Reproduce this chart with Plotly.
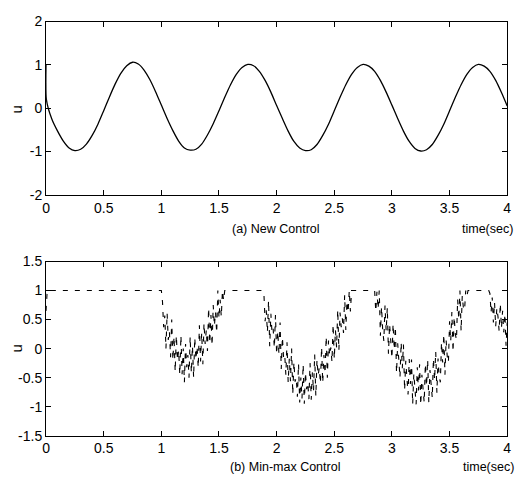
import numpy as np
import plotly.graph_objects as go

# ---------------- data ----------------
# (a) New Control: time samples and values
t_a_start = [0.0, 0.003]
u_a_start = [1.0, 0.2]
t_a_step = 0.05  # sample spacing of the main curve, starting at 0.05
u_a_main = [
    -0.25, -0.53, -0.76, -0.92, -0.98, -0.95, -0.83, -0.63, -0.37, -0.06,
    0.26, 0.56, 0.81, 0.98, 1.06, 1.02, 0.88, 0.66, 0.38, 0.07,
    -0.24, -0.52, -0.76, -0.92, -0.97, -0.95, -0.83, -0.62, -0.36, -0.06,
    0.25, 0.54, 0.78, 0.94, 1.01, 0.98, 0.85, 0.64, 0.37, 0.06,
    -0.24, -0.53, -0.77, -0.92, -0.98, -0.96, -0.84, -0.63, -0.37, -0.06,
    0.25, 0.54, 0.78, 0.94, 1.01, 0.97, 0.85, 0.64, 0.37, 0.07,
    -0.24, -0.53, -0.77, -0.93, -0.99, -0.96, -0.84, -0.63, -0.37, -0.06,
    0.25, 0.54, 0.78, 0.94, 1.01, 0.97, 0.85, 0.64, 0.36, 0.05,
]

# (b) Min-max Control: saturated parts and chattering segments (dt = 0.01)
sat_t = [[0.0, 0.003, 0.006, 0.01, 1.0], [1.55, 1.88], [2.66, 2.85], [3.66, 3.84]]
sat_u = [[0.65, 0.9, 0.72, 1.0, 1.0], [1.0, 1.0], [1.0, 1.0], [1.0, 1.0]]
chat_dt = 0.01
chat1_t0 = 1.01
chat1_u = [
    0.81, 0.37, 0.57, 0.00, 0.61, 0.15, 0.30, -0.15, 0.50, -0.20,
    0.21, -0.40, 0.23, -0.20, -0.03, -0.45, 0.23, -0.44, 0.00, -0.58,
    0.08, -0.32, -0.11, -0.50, 0.21, -0.42, 0.05, -0.50, 0.19, -0.19,
    0.04, -0.33, 0.40, -0.22, 0.27, -0.27, 0.44, 0.08, 0.32, -0.04,
    0.70, 0.09, 0.58, 0.05, 0.75, 0.39, 0.63, 0.27, 1.00, 0.52,
    0.84, 0.55, 1.00, 0.83,
]
chat2_t0 = 1.89
chat2_u = [
    0.93, 0.47, 0.66, 0.28, 0.83, 0.04, 0.60, 0.27, 0.34, 0.01,
    0.58, -0.10, 0.30, -0.10, 0.45, -0.35, 0.20, -0.15, -0.10, -0.45,
    0.11, -0.58, -0.17, -0.56, 0.00, -0.79, -0.23, -0.57, -0.50, -0.83,
    -0.26, -0.93, -0.50, -0.86, -0.27, -0.95, -0.41, -0.70, -0.59, -0.87,
    -0.25, -0.88, -0.41, -0.73, -0.10, -0.82, -0.19, -0.46, -0.33, -0.60,
    0.03, -0.59, -0.11, -0.43, 0.21, -0.50, 0.14, -0.12, 0.02, -0.23,
    0.42, -0.18, 0.32, 0.02, 0.67, -0.03, 0.62, 0.37, 0.52, 0.27,
    0.92, 0.32, 0.82, 0.62, 1.00, 0.64, 1.00,
]
chat3_t0 = 2.86
chat3_u = [
    0.64, 0.98, 0.68, 1.00, 0.22, 0.72, 0.32, 0.13, 0.74, 0.30,
    0.71, -0.09, 0.42, 0.02, -0.17, 0.43, -0.02, 0.38, -0.42, 0.09,
    -0.30, -0.50, 0.11, -0.34, 0.07, -0.72, -0.21, -0.60, -0.79, -0.18,
    -0.61, -0.19, -0.96, -0.43, -0.80, -0.96, -0.32, -0.72, -0.27, -0.97,
    -0.45, -0.79, -0.93, -0.26, -0.65, -0.19, -0.93, -0.37, -0.71, -0.85,
    -0.17, -0.54, -0.05, -0.76, -0.17, -0.48, -0.58, 0.11, -0.24, 0.25,
    -0.45, 0.15, -0.14, -0.24, 0.47, 0.13, 0.63, -0.06, 0.55, 0.25,
    0.15, 0.85, 0.50, 1.00, 0.30, 0.91, 0.70, 0.66, 1.00, 0.90,
]
chat4_t0 = 3.85
chat4_u = [
    0.95, 0.62, 0.88, 0.45, 0.80, 0.38, 0.70, 0.55, 0.30, 0.78,
    0.35, 0.65, 0.28, 0.60, 0.05, 0.45,
]

x_ticks = [0, 0.5, 1, 1.5, 2, 2.5, 3, 3.5, 4]
x_ticktext = ["0", "0.5", "1", "1.5", "2", "2.5", "3", "3.5", "4"]
ya_ticks = [-2, -1, 0, 1, 2]
ya_ticktext = ["-2", "-1", "0", "1", "2"]
yb_ticks = [-1.5, -1, -0.5, 0, 0.5, 1, 1.5]
yb_ticktext = ["-1.5", "-1", "-0.5", "0", "0.5", "1", "1.5"]

title_a = "(a) New Control"
title_b = "(b) Min-max Control"
xlabel = "time(sec)"
ylabel = "u"

# ---------------- assemble ----------------
t_a = t_a_start + list(np.round(t_a_step * np.arange(1, len(u_a_main) + 1), 4))
u_a = u_a_start + u_a_main

def grid(t0, vals):
    return list(np.round(t0 + chat_dt * np.arange(len(vals)), 4))

t_b = (sat_t[0] + grid(chat1_t0, chat1_u) + sat_t[1] + grid(chat2_t0, chat2_u)
       + sat_t[2] + grid(chat3_t0, chat3_u) + sat_t[3] + grid(chat4_t0, chat4_u))
u_b = (sat_u[0] + chat1_u + sat_u[1] + chat2_u + sat_u[2] + chat3_u
       + sat_u[3] + chat4_u)

W, H = 525, 494
FONT = "Liberation Sans, Arial, sans-serif"

fig = go.Figure()
fig.add_trace(go.Scatter(x=t_a, y=u_a, mode="lines", xaxis="x", yaxis="y",
                         line=dict(color="black", width=1.3, shape="spline", smoothing=0.6),
                         hoverinfo="skip", showlegend=False))
fig.add_trace(go.Scatter(x=t_b, y=u_b, mode="lines", xaxis="x2", yaxis="y2",
                         line=dict(color="black", width=1.1, dash="5px,7px"),
                         hoverinfo="skip", showlegend=False))

axis_common = dict(showline=True, linecolor="black", linewidth=1, mirror="ticks",
                   ticks="inside", ticklen=5, tickcolor="black", showgrid=False,
                   zeroline=False, tickfont=dict(family=FONT, size=14, color="black"),
                   fixedrange=True)

fig.update_layout(
    width=W, height=H,
    margin=dict(l=0, r=0, t=0, b=0),
    paper_bgcolor="white", plot_bgcolor="white",
    xaxis=dict(domain=[42.7 / W, 511 / W], range=[0, 4], anchor="y",
               tickvals=x_ticks, ticktext=x_ticktext, **axis_common),
    yaxis=dict(domain=[1 - 193 / H, 1 - 14 / H], range=[-2, 2], anchor="x",
               tickvals=ya_ticks, ticktext=ya_ticktext, **axis_common),
    xaxis2=dict(domain=[42.7 / W, 511 / W], range=[0, 4], anchor="y2",
                tickvals=x_ticks, ticktext=x_ticktext, **axis_common),
    yaxis2=dict(domain=[1 - 442 / H, 1 - 262 / H], range=[-1.5, 1.5], anchor="x2",
                tickvals=yb_ticks, ticktext=yb_ticktext, **axis_common),
)

ann_font = dict(family=FONT, size=12.5, color="black")
fig.add_annotation(x=229 / W, y=1 - 228 / H, xref="paper", yref="paper", text=title_a,
                   showarrow=False, xanchor="left", yanchor="middle", font=ann_font)
fig.add_annotation(x=463 / W, y=1 - 228 / H, xref="paper", yref="paper", text=xlabel,
                   showarrow=False, xanchor="left", yanchor="middle", font=ann_font)
fig.add_annotation(x=227 / W, y=1 - 474 / H, xref="paper", yref="paper", text=title_b,
                   showarrow=False, xanchor="left", yanchor="middle", font=ann_font)
fig.add_annotation(x=464 / W, y=1 - 474 / H, xref="paper", yref="paper", text=xlabel,
                   showarrow=False, xanchor="left", yanchor="middle", font=ann_font)
fig.add_annotation(x=13 / W, y=1 - 105 / H, xref="paper", yref="paper", text=ylabel,
                   showarrow=False, textangle=-90, xanchor="center", yanchor="middle",
                   font=dict(family=FONT, size=15, color="black"))
fig.add_annotation(x=13 / W, y=1 - 352 / H, xref="paper", yref="paper", text=ylabel,
                   showarrow=False, textangle=-90, xanchor="center", yanchor="middle",
                   font=dict(family=FONT, size=15, color="black"))

fig.write_html("out.html", config={"displayModeBar": False, "staticPlot": True})
